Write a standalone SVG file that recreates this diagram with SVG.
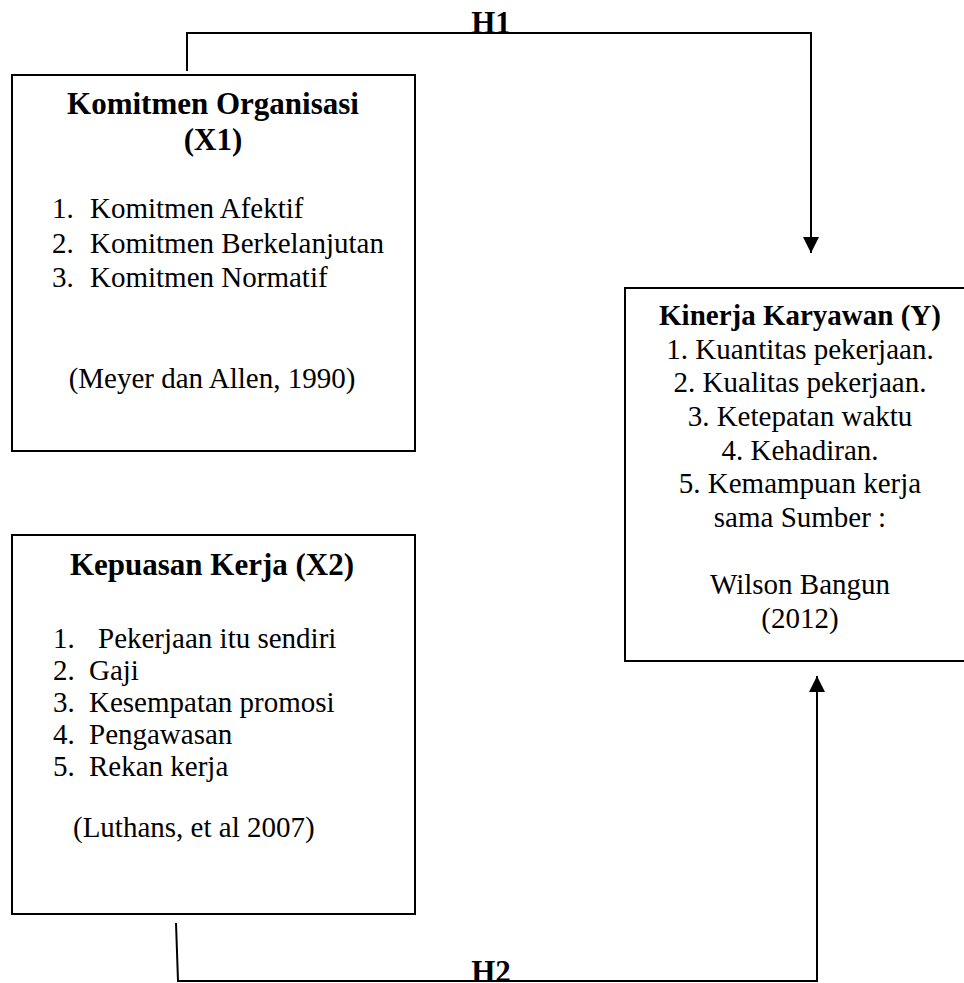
<svg xmlns="http://www.w3.org/2000/svg" width="964" height="983" viewBox="0 0 964 983">
<style>
  .box { fill: #ffffff; stroke: #000000; stroke-width: 2; }
  .conn { fill: none; stroke: #000000; stroke-width: 2; }
  text { font-family: "Liberation Serif", "Times New Roman", serif; fill: #000000; }
  .title { font-size: 31px; font-weight: bold; }
  .ttl2 { font-size: 29px; font-weight: bold; }
  .body { font-size: 29px; }
  .lbl { font-size: 31px; font-weight: bold; }
  .c { text-anchor: middle; }
</style>
<defs>
  <marker id="arr" viewBox="0 0 16 16" refX="16" refY="8" markerWidth="16" markerHeight="16" markerUnits="userSpaceOnUse" orient="auto">
    <path d="M0,0 L16,8 L0,16 z" fill="#000000"/>
  </marker>
</defs>
<rect width="964" height="983" fill="#ffffff"/>

<g id="connectors">
  <path class="conn" d="M187,71 V33 H811 V253" marker-end="url(#arr)"/>
  <path class="conn" d="M176,923 L178,981 H817 V676" marker-end="url(#arr)"/>
  <text class="lbl c" x="491" y="33">H1</text>
  <text class="lbl c" x="491" y="982">H2</text>
</g>

<g id="x1">
  <rect class="box" x="12" y="75" width="403" height="376"/>
  <text class="title c" x="213" y="114">Komitmen Organisasi</text>
  <text class="title c" x="213" y="150">(X1)</text>
  <text class="body" y="218"><tspan x="52">1.</tspan><tspan x="90">Komitmen Afektif</tspan></text>
  <text class="body" y="253"><tspan x="52">2.</tspan><tspan x="90">Komitmen Berkelanjutan</tspan></text>
  <text class="body" y="287"><tspan x="52">3.</tspan><tspan x="90">Komitmen Normatif</tspan></text>
  <text class="body c" x="212" y="388">(Meyer dan Allen, 1990)</text>
</g>

<g id="x2">
  <rect class="box" x="12" y="535" width="403" height="379"/>
  <text class="title c" x="212" y="575">Kepuasan Kerja (X2)</text>
  <text class="body" y="648"><tspan x="53">1.</tspan><tspan x="98">Pekerjaan itu sendiri</tspan></text>
  <text class="body" y="680"><tspan x="53">2.</tspan><tspan x="89">Gaji</tspan></text>
  <text class="body" y="712"><tspan x="53">3.</tspan><tspan x="89">Kesempatan promosi</tspan></text>
  <text class="body" y="744"><tspan x="53">4.</tspan><tspan x="89">Pengawasan</tspan></text>
  <text class="body" y="776"><tspan x="53">5.</tspan><tspan x="89">Rekan kerja</tspan></text>
  <text class="body" x="73" y="837">(Luthans, et al 2007)</text>
</g>

<g id="y">
  <rect class="box" x="625" y="288" width="350" height="373"/>
  <text class="ttl2 c" x="800" y="325">Kinerja Karyawan (Y)</text>
  <text class="body c" x="800" y="359">1. Kuantitas pekerjaan.</text>
  <text class="body c" x="800" y="392">2. Kualitas pekerjaan.</text>
  <text class="body c" x="800" y="426">3. Ketepatan waktu</text>
  <text class="body c" x="800" y="460">4. Kehadiran.</text>
  <text class="body c" x="800" y="493">5. Kemampuan kerja</text>
  <text class="body c" x="800" y="527">sama Sumber :</text>
  <text class="body c" x="800" y="594">Wilson Bangun</text>
  <text class="body c" x="800" y="628">(2012)</text>
</g>
</svg>
